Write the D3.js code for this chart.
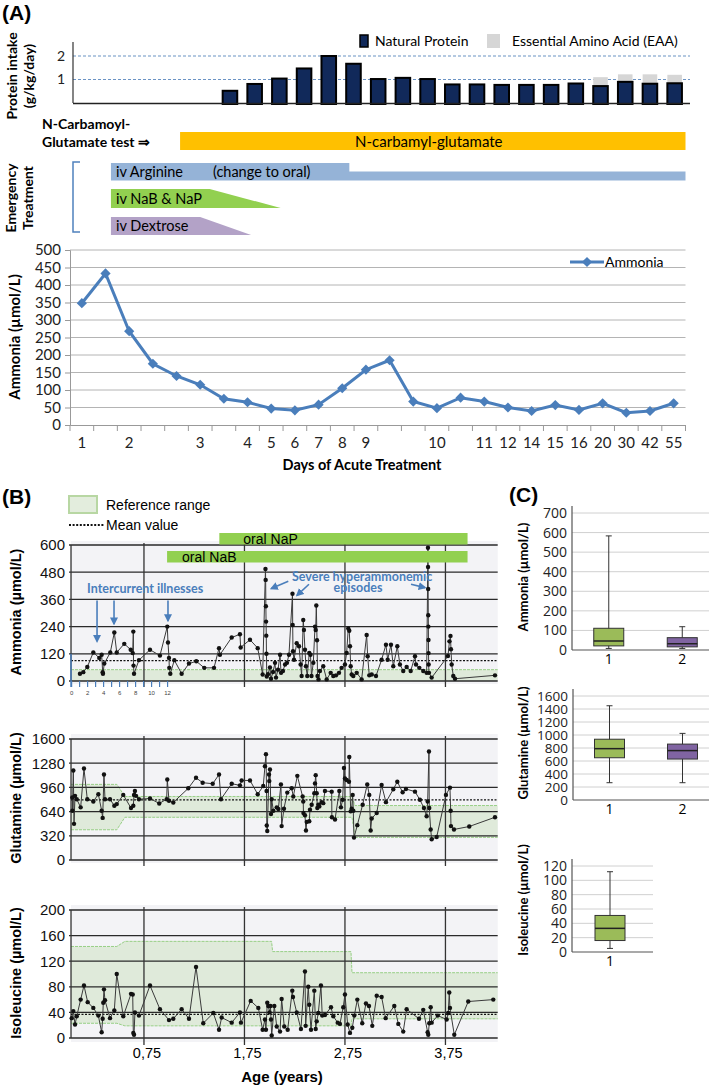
<!DOCTYPE html>
<html>
<head>
<meta charset="utf-8">
<script src="https://d3js.org/d3.v7.min.js"></script>
<style>
  body { margin: 0; background: #fff; }
  svg { display: block; }
</style>
</head>
<body>
<div id="chart"></div>
<script>
// ---------- Panel A: protein intake (g/kg/day) ----------
const proteinDays = d3.range(1, 20);
const naturalProtein = [0.52, 0.81, 1.04, 1.47, 2.0, 1.67, 1.02, 1.07, 1.02, 0.79, 0.79, 0.77, 0.77, 0.77, 0.83, 0.72, 0.9, 0.82, 0.84];
const eaaProtein = [0, 0, 0, 0, 0, 0, 0, 0, 0, 0, 0, 0, 0, 0, 0, 0.38, 0.32, 0.4, 0.36];
const proteinTicks = [1, 2];

// ---------- Panel A: ammonia in acute treatment ----------
const dayLabels = ["1", "", "2", "", "", "3", "", "4", "5", "6", "7", "8", "9", "", "", "10", "", "11", "12", "14", "15", "16", "20", "30", "42", "55"];
const ammoniaAcute = [348, 433, 268, 175, 140, 115, 75, 65, 47, 42, 58, 105, 158, 185, 67, 48, 78, 67, 50, 40, 57, 43, 62, 35, 40, 62];
const ammoniaTicks = d3.range(0, 501, 50);

// treatment spans, in day-slot units (0..26)
const ncgSpan = [4.65, 26];
const arginineSpan = [1.73, 11.8, 26];   // iv start, change to oral, end
const nabNapSpan = [1.73, 5.9, 8.9];     // start, taper start, stop
const dextroseSpan = [1.73, 5.5, 7.65];

// ---------- Panel B: long-term follow-up [age (years), value] ----------
const ageTicks = [0.75, 1.75, 2.75, 3.75];
const ageLabels = ["0,75", "1,75", "2,75", "3,75"];
const monthTicks = d3.range(0, 13);
const napSpan = [1.5, 3.97];
const nabSpan = [0.98, 3.97];

const ammoniaLong = [
  [0.113, 32], [0.146, 39], [0.186, 62], [0.246, 126], [0.305, 102], [0.329, 116], [0.339, 39], [0.342, 32], [0.355, 77], [0.415, 126],
  [0.455, 214], [0.479, 126], [0.554, 164], [0.618, 138], [0.638, 123], [0.644, 218], [0.646, 68], [0.651, 32], [0.700, 92], [0.810, 138],
  [0.909, 112], [0.982, 240], [0.989, 170], [0.999, 102], [1.002, 58], [1.012, 32], [1.052, 92], [1.125, 32], [1.198, 77], [1.271, 87],
  [1.350, 58], [1.447, 58], [1.497, 145], [1.506, 116], [1.623, 192], [1.705, 206], [1.712, 148], [1.805, 182], [1.882, 145], [1.931, 29],
  [1.959, 494], [1.961, 446], [1.963, 330], [1.965, 262], [1.967, 200], [1.969, 120], [1.972, 20],
  [1.984, 30], [2.004, 60], [2.014, 10], [2.034, 40], [2.054, 80], [2.064, 15], [2.084, 50], [2.104, 116], [2.114, 36], [2.133, 44],
  [2.154, 73], [2.173, 80], [2.193, 116], [2.228, 385], [2.230, 247], [2.233, 131], [2.243, 94], [2.270, 167], [2.293, 153], [2.309, 73],
  [2.319, 22], [2.335, 269], [2.342, 225], [2.352, 138], [2.362, 65], [2.375, 22], [2.395, 124], [2.407, 116], [2.417, 22], [2.435, 80],
  [2.452, 240], [2.459, 225], [2.465, 333], [2.472, 180], [2.477, 22], [2.487, 7], [2.501, 44], [2.534, 65], [2.568, 7], [2.608, 36],
  [2.634, 22], [2.661, 25], [2.691, 36], [2.717, 58], [2.750, 73], [2.767, 124], [2.783, 232], [2.793, 222], [2.800, 153], [2.807, 65],
  [2.817, 29], [2.833, 22], [2.867, 36], [2.916, 7], [2.966, 203], [2.976, 109], [2.992, 25], [3.016, 29], [3.059, 22], [3.115, 94],
  [3.158, 160], [3.175, 94], [3.208, 160], [3.231, 65], [3.271, 153], [3.297, 73], [3.330, 44], [3.364, 62], [3.404, 44], [3.447, 109],
  [3.457, 73], [3.490, 58], [3.529, 44], [3.563, 36],
  [3.576, 588], [3.577, 503], [3.578, 406], [3.579, 290], [3.580, 240], [3.581, 181], [3.582, 123], [3.583, 73], [3.586, 36],
  [3.613, 15], [3.775, 110], [3.790, 175], [3.800, 199], [3.805, 140], [3.812, 73], [3.828, 22], [3.845, 10], [4.243, 25]
];
const glutamineLong = [
  [0.037, 826], [0.038, 652], [0.047, 1183], [0.054, 478], [0.064, 848], [0.081, 804], [0.120, 696], [0.153, 1209], [0.186, 804], [0.246, 774],
  [0.296, 870], [0.329, 652], [0.339, 557], [0.352, 1130], [0.362, 804], [0.412, 804], [0.455, 717], [0.479, 739], [0.544, 861], [0.621, 687],
  [0.644, 717], [0.651, 861], [0.660, 913], [0.671, 848], [0.700, 804], [0.810, 813], [0.902, 748], [0.976, 804], [0.982, 1065], [0.999, 783],
  [1.042, 761], [1.191, 948], [1.268, 1087], [1.334, 1022], [1.434, 1009], [1.497, 1130], [1.516, 804], [1.623, 1009], [1.705, 987], [1.722, 1052],
  [1.805, 1052], [1.882, 870], [1.937, 978], [1.954, 1239], [1.964, 1400], [1.970, 913], [1.972, 457], [1.977, 383], [1.994, 1130], [1.997, 1043],
  [2.004, 1196], [2.014, 609], [2.021, 804], [2.037, 652], [2.071, 696], [2.087, 674], [2.113, 1000], [2.120, 448], [2.143, 678], [2.176, 891],
  [2.220, 948], [2.236, 839], [2.276, 1113], [2.329, 839], [2.335, 774], [2.337, 622], [2.352, 591], [2.362, 391], [2.370, 504], [2.395, 513],
  [2.402, 665], [2.419, 730], [2.445, 883], [2.452, 1013], [2.459, 1122], [2.469, 883], [2.475, 687], [2.485, 730], [2.495, 709], [2.518, 765],
  [2.534, 752], [2.551, 913], [2.618, 904], [2.620, 565], [2.651, 535], [2.694, 913], [2.710, 696], [2.727, 796], [2.740, 1217], [2.750, 1078],
  [2.767, 1057], [2.790, 1035], [2.793, 1361], [2.807, 643], [2.817, 678], [2.827, 861], [2.833, 652], [2.840, 296], [2.873, 461], [2.926, 730],
  [2.972, 1000], [2.992, 861], [3.006, 391], [3.016, 548], [3.066, 622], [3.115, 991], [3.158, 765], [3.231, 935], [3.271, 1035], [3.324, 896],
  [3.357, 939], [3.447, 904], [3.496, 796], [3.536, 687], [3.563, 578], [3.573, 774], [3.586, 1435], [3.589, 687], [3.603, 404], [3.613, 274],
  [3.663, 304], [3.755, 861], [3.795, 957], [3.802, 652], [3.805, 448], [3.835, 404], [3.987, 443], [4.243, 565]
];
const isoleucineLong = [
  [0.031, 31], [0.047, 42], [0.064, 21], [0.081, 34], [0.120, 60], [0.153, 82], [0.190, 56], [0.246, 47], [0.296, 35], [0.329, 9],
  [0.339, 30], [0.345, 55], [0.352, 76], [0.362, 59], [0.412, 31], [0.455, 43], [0.479, 100], [0.544, 34], [0.621, 69], [0.638, 68],
  [0.644, 8], [0.651, 5], [0.660, 40], [0.700, 35], [0.810, 82], [0.909, 45], [0.999, 28], [1.042, 30], [1.125, 45], [1.198, 30],
  [1.268, 111], [1.340, 23], [1.440, 39], [1.497, 13], [1.523, 32], [1.623, 24], [1.705, 40], [1.715, 24], [1.812, 58], [1.888, 47],
  [1.931, 13], [1.954, 29], [1.964, 13], [1.977, 55], [1.987, 50], [2.000, 40], [2.009, 50], [2.014, 29], [2.021, 4], [2.047, 50],
  [2.071, 18], [2.104, 10], [2.120, 61], [2.146, 18], [2.180, 13], [2.226, 74], [2.233, 64], [2.270, 40], [2.312, 14], [2.352, 104],
  [2.359, 19], [2.385, 80], [2.395, 52], [2.412, 13], [2.445, 74], [2.459, 14], [2.469, 26], [2.485, 39], [2.511, 82], [2.524, 35],
  [2.551, 36], [2.611, 48], [2.634, 34], [2.678, 24], [2.700, 22], [2.733, 48], [2.750, 68], [2.777, 21], [2.800, 8], [2.823, 16],
  [2.843, 35], [2.873, 60], [2.922, 23], [2.959, 54], [2.989, 50], [3.022, 19], [3.066, 66], [3.115, 64], [3.155, 31], [3.241, 50],
  [3.281, 22], [3.330, 10], [3.364, 45], [3.487, 30], [3.529, 44], [3.573, 9], [3.579, 5], [3.589, 23], [3.603, 48], [3.613, 24],
  [3.673, 35], [3.762, 29], [3.778, 39], [3.788, 71], [3.795, 47], [3.838, 5], [3.977, 57], [4.226, 60]
];

// reference ranges [age, low, high] and mean values
const ammoniaRef = [[0.024, 0, 50], [4.27, 0, 50]];
const glutamineRef = [[0.024, 400, 1000], [0.48, 400, 1000], [0.56, 565, 840], [2.82, 565, 840], [2.85, 300, 720], [4.27, 300, 720]];
const isoleucineRef = [[0.024, 23, 143], [0.48, 23, 143], [0.56, 19, 151], [2.02, 19, 151], [2.03, 19, 135], [2.81, 19, 135], [2.82, 30, 102], [4.27, 30, 102]];
const ammoniaMean = 90, glutamineMean = 795, isoleucineMean = 37;

// ---------- Panel C: box plots ----------
const ammoniaBox = [
  { cat: "1", min: 8, q1: 21, median: 46, q3: 111, max: 583 },
  { cat: "2", min: 8, q1: 16, median: 32, q3: 63, max: 119 }
];
const glutamineBox = [
  { cat: "1", min: 266, q1: 650, median: 790, q3: 935, max: 1450 },
  { cat: "2", min: 266, q1: 630, median: 760, q3: 860, max: 1025 }
];
const isoleucineBox = [
  { cat: "1", min: 5, q1: 16, median: 33, q3: 51, max: 112 }
];

const fontA = "Lato, 'Open Sans', sans-serif";
const fontB = "'Liberation Sans', Arial, sans-serif";
const blue = "#4a7ebb";

const svg = d3.select("#chart").append("svg")
    .attr("width", 709)
    .attr("height", 1085)
    .style("font-family", fontA);

svg.append("defs").append("marker")
    .attr("id", "arrow")
    .attr("viewBox", "0 0 10 10")
    .attr("refX", 8).attr("refY", 5)
    .attr("markerWidth", 5).attr("markerHeight", 5)
    .attr("orient", "auto")
    .append("path").attr("d", "M0,0L10,5L0,10z").attr("fill", blue);

// ================= PANEL A =================
svg.append("text").attr("x", 2).attr("y", 20)
    .style("font-family", fontB).style("font-weight", "bold").style("font-size", "21px")
    .text("(A)");

// --- protein bars
const xProt = d3.scaleBand().domain(proteinDays).range([217.6, 687]).paddingInner(0.41).paddingOuter(0.205);
const yProt = d3.scaleLinear().domain([0, 2]).range([103, 56]);
const protG = svg.append("g");

protG.selectAll(".dash").data(proteinTicks).join("line")
    .attr("x1", 73).attr("x2", 690)
    .attr("y1", d => yProt(d)).attr("y2", d => yProt(d))
    .attr("stroke", "#6b93c4").attr("stroke-width", 1.2).attr("stroke-dasharray", "3,2");

protG.append("g")
    .attr("transform", "translate(73,0)")
    .call(d3.axisLeft(yProt).tickValues(proteinTicks).tickSize(0).tickPadding(8).tickFormat(d3.format("d")))
    .call(g => g.select(".domain").remove())
    .selectAll("text").style("font-family", fontA).style("font-size", "14px").attr("fill", "#222");

protG.selectAll(".eaa").data(proteinDays).join("rect")
    .attr("x", d => xProt(d))
    .attr("width", xProt.bandwidth())
    .attr("y", (d, i) => yProt(naturalProtein[i] + eaaProtein[i]))
    .attr("height", (d, i) => yProt(naturalProtein[i]) - yProt(naturalProtein[i] + eaaProtein[i]))
    .attr("fill", "#d6d6d6");

protG.selectAll(".np").data(proteinDays).join("rect")
    .attr("x", d => xProt(d))
    .attr("width", xProt.bandwidth())
    .attr("y", (d, i) => yProt(naturalProtein[i]))
    .attr("height", (d, i) => yProt(0) - yProt(naturalProtein[i]) + 1)
    .attr("fill", "#11295a").attr("stroke", "#000").attr("stroke-width", 2);

protG.append("line").attr("x1", 73).attr("x2", 73).attr("y1", 42).attr("y2", 103).attr("stroke", "#333").attr("stroke-width", 1.2);
protG.append("line").attr("x1", 73).attr("x2", 690).attr("y1", 103.5).attr("y2", 103.5).attr("stroke", "#222").attr("stroke-width", 1.5);

// legend
protG.append("rect").attr("x", 360).attr("y", 35).attr("width", 8).attr("height", 12)
    .attr("fill", "#11295a").attr("stroke", "#000").attr("stroke-width", 1.5);
protG.append("text").attr("x", 375).attr("y", 46).style("font-size", "14px").text("Natural Protein");
protG.append("rect").attr("x", 487).attr("y", 34).attr("width", 13).attr("height", 14).attr("fill", "#d6d6d6");
protG.append("text").attr("x", 512).attr("y", 46).style("font-size", "14px").text("Essential Amino Acid (EAA)");

[["Protein intake", 17], ["(g/kg/day)", 34]].forEach(([t, x]) => {
  svg.append("text").attr("transform", `translate(${x},76) rotate(-90)`)
      .attr("text-anchor", "middle").style("font-weight", "bold").style("font-size", "14px").text(t);
});

// --- treatments
const dayPos = d3.scaleLinear().domain([0, 26]).range([70, 685.5]);
const trt = svg.append("g");
const poly = d3.line().x(d => dayPos(d[0])).y(d => d[1]);

svg.append("text").attr("x", 42).attr("y", 129).style("font-weight", "bold").style("font-size", "14px").text("N-Carbamoyl-");
svg.append("text").attr("x", 42).attr("y", 147).style("font-weight", "bold").style("font-size", "14px").text("Glutamate test \u21d2");

trt.append("rect").attr("x", dayPos(ncgSpan[0])).attr("y", 132)
    .attr("width", dayPos(ncgSpan[1]) - dayPos(ncgSpan[0])).attr("height", 18).attr("fill", "#ffc000");
trt.append("text").attr("x", (dayPos(ncgSpan[0]) + dayPos(ncgSpan[1])) / 2 - 4).attr("y", 147)
    .attr("text-anchor", "middle").style("font-size", "15px").text("N-carbamyl-glutamate");

trt.append("path").attr("d", poly([[arginineSpan[0], 163], [arginineSpan[1], 163], [arginineSpan[1], 171.5], [arginineSpan[2], 171.5], [arginineSpan[2], 180.5], [arginineSpan[0], 180.5]]) + "Z")
    .attr("fill", "#95b3d7");
trt.append("text").attr("x", dayPos(arginineSpan[0]) + 5).attr("y", 177).style("font-size", "14.5px").text("iv Arginine");
trt.append("text").attr("x", dayPos(arginineSpan[0]) + 102).attr("y", 177).style("font-size", "14.5px").text("(change to oral)");

trt.append("path").attr("d", poly([[nabNapSpan[0], 189], [nabNapSpan[1], 189], [nabNapSpan[2], 208], [nabNapSpan[0], 208]]) + "Z")
    .attr("fill", "#92d050");
trt.append("text").attr("x", dayPos(nabNapSpan[0]) + 5).attr("y", 204).style("font-size", "14.5px").text("iv NaB & NaP");

trt.append("path").attr("d", poly([[dextroseSpan[0], 217], [dextroseSpan[1], 217], [dextroseSpan[2], 235], [dextroseSpan[0], 235]]) + "Z")
    .attr("fill", "#b3a2c7");
trt.append("text").attr("x", dayPos(dextroseSpan[0]) + 5).attr("y", 231).style("font-size", "14.5px").text("iv Dextrose");

trt.append("path").attr("d", "M80,162H73V232H80").attr("fill", "none").attr("stroke", "#4f81bd").attr("stroke-width", 1.5);
[["Emergency", 16], ["Treatment", 33]].forEach(([t, x]) => {
  svg.append("text").attr("transform", `translate(${x},198) rotate(-90)`)
      .attr("text-anchor", "middle").style("font-weight", "bold").style("font-size", "14px").text(t);
});

// --- ammonia acute chart
const xDay = d3.scaleBand().domain(d3.range(26)).range([70, 685.5]);
const yAmm = d3.scaleLinear().domain([0, 500]).range([425, 250]);
const ammG = svg.append("g");

ammG.selectAll(".grid").data(ammoniaTicks.slice(1)).join("line")
    .attr("x1", 70).attr("x2", 685.5)
    .attr("y1", d => yAmm(d)).attr("y2", d => yAmm(d))
    .attr("stroke", "#b4b4b4").attr("stroke-width", 1);

ammG.append("g").attr("transform", "translate(70,0)")
    .call(d3.axisLeft(yAmm).tickValues(ammoniaTicks).tickSize(5).tickPadding(4))
    .call(g => g.select(".domain").attr("stroke", "#999"))
    .call(g => g.selectAll(".tick line").attr("stroke", "#999"))
    .selectAll("text").style("font-family", fontA).style("font-size", "15px").attr("fill", "#222");

ammG.append("g").attr("transform", "translate(0,425)")
    .call(d3.axisBottom(xDay).tickSize(0).tickPadding(12).tickFormat(i => dayLabels[i]))
    .call(g => g.select(".domain").attr("stroke", "#999"))
    .selectAll("text").style("font-family", fontA).style("font-size", "15px").attr("fill", "#222");

ammG.selectAll(".xt").data(d3.range(27)).join("line")
    .attr("x1", d => dayPos(d)).attr("x2", d => dayPos(d))
    .attr("y1", 425).attr("y2", 431).attr("stroke", "#999");

ammG.append("path").datum(ammoniaAcute)
    .attr("d", d3.line().x((d, i) => xDay(i) + xDay.bandwidth() / 2).y(d => yAmm(d)))
    .attr("fill", "none").attr("stroke", blue).attr("stroke-width", 3);

const diamond = d3.symbol().type(d3.symbolSquare).size(52);
ammG.selectAll(".pt").data(ammoniaAcute).join("path")
    .attr("d", diamond)
    .attr("transform", (d, i) => `translate(${xDay(i) + xDay.bandwidth() / 2},${yAmm(d)}) rotate(45)`)
    .attr("fill", blue);

ammG.append("line").attr("x1", 570).attr("x2", 604).attr("y1", 262).attr("y2", 262).attr("stroke", blue).attr("stroke-width", 3);
ammG.append("path").attr("d", diamond).attr("transform", "translate(587,262) rotate(45)").attr("fill", blue);
ammG.append("text").attr("x", 605).attr("y", 267).style("font-size", "14px").text("Ammonia");

svg.append("text").attr("transform", "translate(20,337) rotate(-90)")
    .attr("text-anchor", "middle").style("font-weight", "bold").style("font-size", "15px").text("Ammonia (\u00b5mol/L)");
svg.append("text").attr("x", 362).attr("y", 470).attr("text-anchor", "middle")
    .style("font-weight", "bold").style("font-size", "14.5px").text("Days of Acute Treatment");

// ================= PANEL B =================
const xAge = d3.scaleLinear().domain([0, 4.27]).range([68.6, 497.7]);
const plotLeft = xAge(0.024), plotRight = xAge(4.27);

svg.append("text").attr("x", 2).attr("y", 504)
    .style("font-family", fontB).style("font-weight", "bold").style("font-size", "21px").text("(B)");
svg.append("rect").attr("x", 69).attr("y", 496).attr("width", 28).attr("height", 17)
    .attr("fill", "#e3eddd").attr("stroke", "#b8d7a3").attr("stroke-width", 2);
svg.append("text").attr("x", 106).attr("y", 510).style("font-family", fontB).style("font-size", "14px").text("Reference range");
svg.append("line").attr("x1", 69).attr("x2", 105).attr("y1", 525).attr("y2", 525)
    .attr("stroke", "#111").attr("stroke-width", 2).attr("stroke-dasharray", "2,1.6");
svg.append("text").attr("x", 106).attr("y", 530).style("font-family", fontB).style("font-size", "14px").text("Mean value");

function drawLong(p) {
  const y = d3.scaleLinear().domain([0, p.max]).range([p.y0, p.y1]);
  const g = svg.append("g");
  g.append("rect").attr("x", plotLeft).attr("y", p.bgTop)
      .attr("width", plotRight - plotLeft).attr("height", p.bgBottom - p.bgTop).attr("fill", "#f3f3f6");

  g.append("path").datum(p.ref)
      .attr("d", d3.area().x(d => xAge(d[0])).y0(d => y(d[1])).y1(d => y(d[2])))
      .attr("fill", "#dfeada");
  [1, 2].forEach(k => {
    if (p.ref[0][k] === 0) return;
    g.append("path").datum(p.ref)
        .attr("d", d3.line().x(d => xAge(d[0])).y(d => y(d[k])))
        .attr("fill", "none").attr("stroke", "#98cf86").attr("stroke-width", 1).attr("stroke-dasharray", "3,1");
  });

  g.selectAll(".h").data(p.ticks).join("line")
      .attr("x1", plotLeft - 2).attr("x2", plotRight)
      .attr("y1", d => y(d)).attr("y2", d => y(d))
      .attr("stroke", "#2a2a2a").attr("stroke-width", 1.3);
  g.selectAll(".v").data(ageTicks).join("line")
      .attr("x1", d => xAge(d)).attr("x2", d => xAge(d))
      .attr("y1", p.bgTop + 2).attr("y2", p.bgBottom + 3)
      .attr("stroke", "#333").attr("stroke-width", 1.3);
  g.append("line").attr("x1", plotLeft).attr("x2", plotLeft).attr("y1", y(p.max)).attr("y2", y(0))
      .attr("stroke", "#333").attr("stroke-width", 1.3);

  g.append("line").attr("x1", plotLeft).attr("x2", plotRight)
      .attr("y1", y(p.mean)).attr("y2", y(p.mean))
      .attr("stroke", "#111").attr("stroke-width", 1.2).attr("stroke-dasharray", "2,1.5");

  g.append("path").datum(p.data)
      .attr("d", d3.line().x(d => xAge(d[0])).y(d => y(d[1])))
      .attr("fill", "none").attr("stroke", "#3a3a3a").attr("stroke-width", 1);
  g.selectAll(".dot").data(p.data).join("circle")
      .attr("cx", d => xAge(d[0])).attr("cy", d => y(d[1])).attr("r", 2.2).attr("fill", "#111");

  g.append("g").attr("transform", `translate(${plotLeft},0)`)
      .call(d3.axisLeft(y).tickValues(p.ticks).tickSize(0).tickPadding(6).tickFormat(d3.format("d")))
      .call(a => a.select(".domain").remove())
      .selectAll("text").style("font-family", fontB).style("font-size", "15px").attr("fill", "#111");

  svg.append("text").attr("transform", `translate(21,${p.labelY}) rotate(-90)`)
      .attr("text-anchor", "middle").style("font-family", fontB).style("font-weight", "bold").style("font-size", "14.5px")
      .text(p.label);
  return y;
}

const yAmmB = drawLong({ max: 600, y0: 681, y1: 545, bgTop: 541, bgBottom: 684, ticks: d3.range(0, 601, 120),
  data: ammoniaLong, ref: ammoniaRef, mean: ammoniaMean, label: "Ammonia (\u00b5mol/L)", labelY: 612 });
drawLong({ max: 1600, y0: 860, y1: 739, bgTop: 734, bgBottom: 863, ticks: d3.range(0, 1601, 320),
  data: glutamineLong, ref: glutamineRef, mean: glutamineMean, label: "Glutamine (\u00b5mol/L)", labelY: 798 });
drawLong({ max: 200, y0: 1038, y1: 910, bgTop: 905, bgBottom: 1042, ticks: d3.range(0, 201, 40),
  data: isoleucineLong, ref: isoleucineRef, mean: isoleucineMean, label: "Isoleucine (\u00b5mol/L)", labelY: 973 });

// blue month sub-axis (first year)
const xMonth = d3.scaleLinear().domain([0, 12]).range([xAge(0.03), xAge(0.985)]);
svg.append("line").attr("x1", plotLeft).attr("x2", plotLeft).attr("y1", yAmmB(120)).attr("y2", yAmmB(0) + 6)
    .attr("stroke", blue).attr("stroke-width", 1.5);
svg.selectAll(".mt").data(monthTicks).join("line")
    .attr("x1", d => xMonth(d)).attr("x2", d => xMonth(d))
    .attr("y1", yAmmB(0)).attr("y2", yAmmB(0) + 6).attr("stroke", blue).attr("stroke-width", 1.2);
svg.selectAll(".ml").data(monthTicks.filter(d => d % 2 === 0)).join("text")
    .attr("x", d => xMonth(d)).attr("y", 695).attr("text-anchor", "middle")
    .style("font-family", fontB).style("font-size", "6px").attr("fill", "#444").text(d => d);

// oral NaP / NaB bars
[[napSpan, 533, 24, "oral NaP"], [nabSpan, 551, 15, "oral NaB"]].forEach(([s, top, off, t]) => {
  svg.append("rect").attr("x", xAge(s[0])).attr("y", top).attr("width", xAge(s[1]) - xAge(s[0])).attr("height", 11.5).attr("fill", "#92d050");
  svg.append("text").attr("x", xAge(s[0]) + off).attr("y", top + 10.5)
      .style("font-family", fontB).style("font-size", "14px").text(t);
});

// annotations
const annot = svg.append("g").style("font-weight", "bold").style("font-size", "12.5px").attr("fill", blue);
annot.append("text").attr("x", xAge(0.184)).attr("y", 593).text("Intercurrent illnesses");
annot.append("text").attr("x", xAge(2.223)).attr("y", 581).text("Severe hyperammonemic");
annot.append("text").attr("x", xAge(2.88)).attr("y", 592).attr("text-anchor", "middle").text("episodes");
const arrows = [
  [0.283, 355, 0.283, 175], [0.452, 355, 0.452, 252], [0.989, 355, 0.989, 266],
  [2.186, 440, 2.017, 408], [2.392, 427, 2.273, 378], [3.407, 427, 3.547, 412]
];
svg.selectAll(".arr").data(arrows).join("line")
    .attr("x1", d => xAge(d[0])).attr("y1", d => yAmmB(d[1]))
    .attr("x2", d => xAge(d[2])).attr("y2", d => yAmmB(d[3]))
    .attr("stroke", blue).attr("stroke-width", 1.6).attr("marker-end", "url(#arrow)");

// age axis labels
svg.selectAll(".al").data(ageTicks).join("text")
    .attr("x", d => xAge(d) + 3).attr("y", 1058).attr("text-anchor", "middle")
    .style("font-family", fontB).style("font-size", "14.5px").text((d, i) => ageLabels[i]);
svg.append("text").attr("x", 282).attr("y", 1082).attr("text-anchor", "middle")
    .style("font-family", fontB).style("font-weight", "bold").style("font-size", "15px").text("Age (years)");

// ================= PANEL C =================
svg.append("text").attr("x", 509).attr("y", 502)
    .style("font-family", fontB).style("font-weight", "bold").style("font-size", "21px").text("(C)");

function drawBox(p) {
  const y = d3.scaleLinear().domain([0, p.max]).range([p.y0, p.y1]);
  const x = d3.scaleBand().domain(p.data.map(d => d.cat)).range(p.xr);
  const g = svg.append("g");
  g.selectAll(".h").data(p.ticks.slice(1)).join("line")
      .attr("x1", p.xr[0]).attr("x2", p.right)
      .attr("y1", d => y(d)).attr("y2", d => y(d)).attr("stroke", "#d0d0d0");
  g.append("g").attr("transform", `translate(${p.xr[0]},0)`)
      .call(d3.axisLeft(y).tickValues(p.ticks).tickSize(0).tickPadding(5).tickFormat(d3.format("d")))
      .call(a => a.select(".domain").remove())
      .selectAll("text").style("font-family", "'Open Sans', sans-serif").style("font-size", p.fs).attr("fill", "#222");
  g.append("line").attr("x1", p.xr[0]).attr("x2", p.xr[0]).attr("y1", y(p.max) - 7).attr("y2", y(0)).attr("stroke", "#555").attr("stroke-width", 1.2);
  g.append("line").attr("x1", p.xr[0]).attr("x2", p.right).attr("y1", y(0)).attr("y2", y(0)).attr("stroke", "#555").attr("stroke-width", 1.2);

  const bw = 30;
  const b = g.selectAll(".box").data(p.data).join("g")
      .attr("transform", d => `translate(${x(d.cat) + x.bandwidth() / 2},0)`);
  b.append("line").attr("y1", d => y(d.min)).attr("y2", d => y(d.max)).attr("stroke", "#333");
  b.append("line").attr("x1", -3).attr("x2", 3).attr("y1", d => y(d.max)).attr("y2", d => y(d.max)).attr("stroke", "#333");
  b.append("line").attr("x1", -3).attr("x2", 3).attr("y1", d => y(d.min)).attr("y2", d => y(d.min)).attr("stroke", "#333");
  b.append("rect").attr("x", -bw / 2).attr("width", bw)
      .attr("y", d => y(d.q3)).attr("height", d => y(d.q1) - y(d.q3))
      .attr("fill", (d, i) => p.colors[i]).attr("stroke", "#333").attr("stroke-width", 1);
  b.append("line").attr("x1", -bw / 2).attr("x2", bw / 2)
      .attr("y1", d => y(d.median)).attr("y2", d => y(d.median)).attr("stroke", "#222").attr("stroke-width", 1.5);
  b.append("text").attr("y", y(0) + 14).attr("text-anchor", "middle")
      .style("font-family", "'Open Sans', sans-serif").style("font-size", "14px").text(d => d.cat);

  svg.append("text").attr("transform", `translate(528,${p.labelY}) rotate(-90)`)
      .attr("text-anchor", "middle").style("font-weight", "bold").style("font-size", "13px").text(p.label);
}

drawBox({ max: 700, y0: 650, y1: 513, ticks: d3.range(0, 701, 100), xr: [572, 719], right: 709, fs: "14px",
  data: ammoniaBox, colors: ["#9bbb59", "#8064a2"], label: "Ammonia (\u00b5mol/L)", labelY: 577 });
drawBox({ max: 1600, y0: 800, y1: 696, ticks: d3.range(0, 1601, 200), xr: [573, 719], right: 709, fs: "13.5px",
  data: glutamineBox, colors: ["#9bbb59", "#8064a2"], label: "Glutamine (\u00b5mol/L)", labelY: 743 });
drawBox({ max: 120, y0: 952, y1: 866, ticks: d3.range(0, 121, 20), xr: [572, 648], right: 653, fs: "14px",
  data: isoleucineBox, colors: ["#9bbb59"], label: "Isoleucine (\u00b5mol/L)", labelY: 900 });
</script>
</body>
</html>
